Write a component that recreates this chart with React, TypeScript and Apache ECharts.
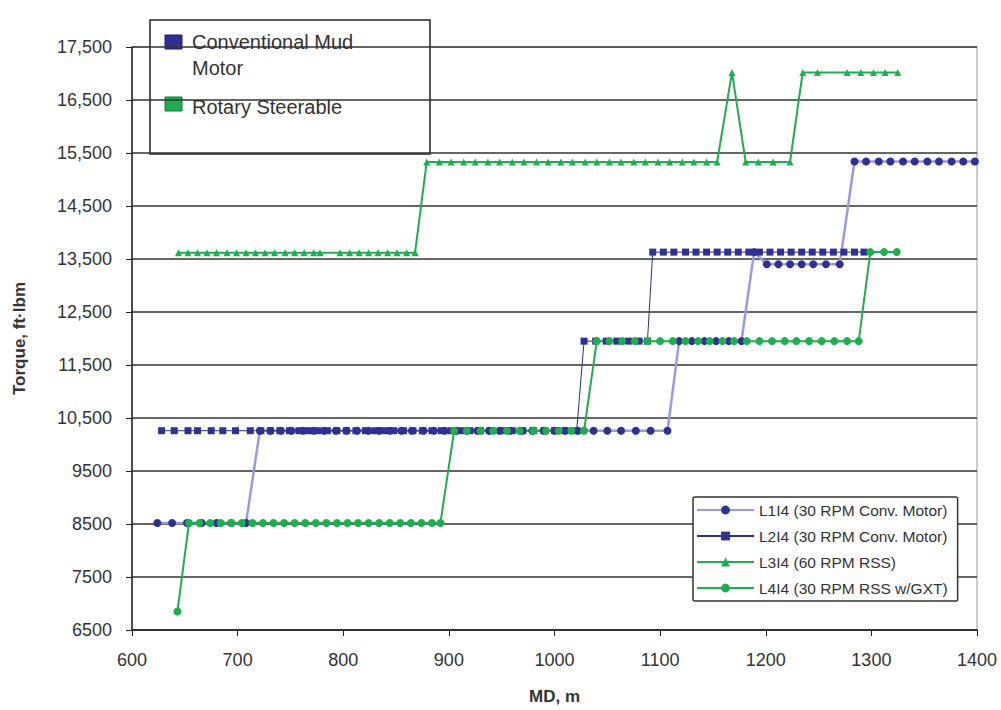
import React, { useEffect, useRef } from "react";
import * as echarts from "echarts";

// ---- Data (MD in m, torque in ft·lbm), grouped by constant-torque steps ----
const l1Levels = [8520, 10260, 11950, 13630, 13400, 15340];
const l1MD = [
  [624, 638, 652, 666, 680, 694, 708],
  [721, 731, 741, 751, 762, 772, 782, 793, 803, 813, 824, 834, 844, 855, 865, 876, 886, 896, 907, 917, 927, 938, 948, 958, 969, 979, 990, 1000, 1010, 1022, 1037, 1050, 1063, 1077, 1091, 1107],
  [1118, 1130, 1142, 1153, 1165, 1177],
  [1189],
  [1201, 1212, 1223, 1234, 1245, 1257, 1270],
  [1284, 1295, 1307, 1318, 1330, 1341, 1353, 1364, 1376, 1387, 1398],
];

const l2Levels = [10260, 11950, 13630];
const l2MD = [
  [628, 640, 653, 662, 675, 686, 698, 712, 722, 731, 740, 749, 758, 767, 776, 785, 794, 803, 812, 821, 830, 839, 848, 857, 866, 875, 884, 893, 902, 911, 920, 930, 940, 950, 960, 970, 980, 990, 1000, 1010, 1021],
  [1028, 1039, 1049, 1059, 1070, 1080, 1088],
  [1093, 1103, 1113, 1124, 1134, 1144, 1154, 1164, 1174, 1184, 1194, 1204, 1214, 1224, 1234, 1244, 1254, 1264, 1274, 1284, 1293],
];

const l3Levels = [13620, 15330, 17020, 15330, 17020];
const l3MD = [
  [644, 653, 662, 671, 680, 690, 699, 708, 717, 726, 735, 745, 754, 763, 772, 778, 797, 806, 815, 824, 833, 842, 851, 860, 868],
  [879, 891, 902, 914, 925, 937, 948, 960, 971, 983, 994, 1006, 1017, 1029, 1040, 1052, 1063, 1075, 1086, 1098, 1109, 1121, 1132, 1144, 1154],
  [1168],
  [1181, 1193, 1207, 1223],
  [1235, 1249, 1277, 1290, 1302, 1313, 1325],
];

const l4Levels = [6850, 8520, 10260, 11950, 13630];
const l4MD = [
  [643],
  [654, 664, 674, 684, 694, 704, 714, 724, 734, 744, 754, 764, 774, 784, 794, 804, 814, 824, 834, 844, 854, 864, 874, 884, 892],
  [905, 917, 930, 942, 955, 967, 980, 992, 1004, 1016, 1028],
  [1040, 1052, 1064, 1076, 1088, 1100, 1112, 1124, 1136, 1147, 1159, 1170, 1182, 1194, 1206, 1218, 1229, 1241, 1253, 1265, 1277, 1288],
  [1299, 1312, 1324],
];

const seriesNames = [
  "L1I4 (30 RPM Conv. Motor)",
  "L2I4 (30 RPM Conv. Motor)",
  "L3I4 (60 RPM RSS)",
  "L4I4 (30 RPM RSS w/GXT)",
];
const groupLegend = ["Conventional Mud\nMotor", "Rotary Steerable"];

const xTicks = { min: 600, max: 1400, step: 100 };
const yTicks = { min: 6500, max: 17500, step: 1000 };

const NAVY = "#2E3192";
const GREEN = "#1DAE4E";
const FONT = "Liberation Sans, Arial, sans-serif";

function build(levels: number[], mds: number[][]) {
  const out: number[][] = [];
  mds.forEach((g, i) => g.forEach((m) => out.push([m, levels[i]])));
  return out;
}

function fmtY(v: number) {
  if (v >= 10000) return String(v).replace(/\B(?=(\d{3})+(?!\d))/g, ",");
  return String(v);
}

function fmtX(v: number) {
  return String(v);
}

export default function App() {
  const ref = useRef<HTMLDivElement>(null);
  useEffect(() => {
    document.body.style.margin = "0";
    if (!ref.current) return;
    const chart = echarts.init(ref.current, null, { renderer: "svg" });
    chart.setOption({
      animation: false,
      backgroundColor: "#ffffff",
      textStyle: { fontFamily: FONT },
      grid: {
        left: 132,
        right: 24,
        top: 47,
        bottom: 77,
        show: true,
        borderColor: "#999",
        borderWidth: 1,
      },
      xAxis: {
        type: "value",
        min: xTicks.min,
        max: xTicks.max,
        interval: xTicks.step,
        name: "MD, m",
        nameLocation: "middle",
        nameGap: 58,
        nameTextStyle: { fontSize: 17, fontWeight: "bold", color: "#333", fontFamily: FONT },
        axisLine: { show: true, lineStyle: { color: "#222", width: 1.5 } },
        axisTick: { show: true, length: 6, lineStyle: { color: "#222" } },
        axisLabel: { fontSize: 18, color: "#333", margin: 21, formatter: fmtX, fontFamily: FONT },
        splitLine: { show: false },
      },
      yAxis: {
        type: "value",
        min: yTicks.min,
        max: yTicks.max,
        interval: yTicks.step,
        name: "Torque, ft·lbm",
        nameLocation: "middle",
        nameGap: 104,
        nameTextStyle: { fontSize: 17, fontWeight: "bold", color: "#333", fontFamily: FONT },
        axisLine: { show: true, lineStyle: { color: "#222", width: 1.5 } },
        axisTick: { show: true, length: 6, lineStyle: { color: "#222" } },
        axisLabel: { fontSize: 18, color: "#333", margin: 20, formatter: fmtY, fontFamily: FONT },
        splitLine: { show: true, lineStyle: { color: "#333", width: 1.5 } },
      },
      legend: {
        orient: "vertical",
        left: 693,
        top: 497,
        padding: [5, 10, 5, 3],
        itemGap: 10,
        itemWidth: 57,
        itemHeight: 11,
        backgroundColor: "#fff",
        borderColor: "#333",
        borderWidth: 1.5,
        borderRadius: 2,
        textStyle: { fontSize: 15.5, color: "#333", fontFamily: FONT },
        data: seriesNames,
      },
      graphic: [
        {
          type: "group",
          z: 100,
          children: [
            {
              type: "rect",
              shape: { x: 150, y: 20, width: 280, height: 134 },
              style: { fill: "#fff", stroke: "#222", lineWidth: 1.5 },
            },
            {
              type: "rect",
              shape: { x: 165, y: 35, width: 17, height: 14 },
              style: { fill: NAVY, stroke: "#1c1c66", lineWidth: 1 },
            },
            {
              type: "text",
              x: 192,
              y: 29,
              style: {
                text: groupLegend[0],
                font: `20px ${FONT}`,
                lineHeight: 26,
                fill: "#333",
                verticalAlign: "top",
              },
            },
            {
              type: "rect",
              shape: { x: 165, y: 97, width: 17, height: 14 },
              style: { fill: GREEN, stroke: "#137a37", lineWidth: 1 },
            },
            {
              type: "text",
              x: 192,
              y: 94,
              style: {
                text: groupLegend[1],
                font: `20px ${FONT}`,
                lineHeight: 26,
                fill: "#333",
                verticalAlign: "top",
              },
            },
          ],
        },
      ],
      series: [
        {
          name: seriesNames[0],
          type: "line",
          data: build(l1Levels, l1MD),
          symbol: "circle",
          symbolSize: 8,
          lineStyle: { color: "#9A9AE0", width: 2.5 },
          itemStyle: { color: NAVY },
        },
        {
          name: seriesNames[1],
          type: "line",
          data: build(l2Levels, l2MD),
          symbol: "rect",
          symbolSize: 7,
          lineStyle: { color: "#2B2E85", width: 1 },
          itemStyle: { color: NAVY },
        },
        {
          name: seriesNames[2],
          type: "line",
          data: build(l3Levels, l3MD),
          symbol: "triangle",
          symbolSize: 7,
          lineStyle: { color: GREEN, width: 2 },
          itemStyle: { color: GREEN },
        },
        {
          name: seriesNames[3],
          type: "line",
          data: build(l4Levels, l4MD),
          symbol: "circle",
          symbolSize: 8,
          lineStyle: { color: GREEN, width: 2 },
          itemStyle: { color: GREEN },
        },
      ],
    });
    return () => chart.dispose();
  }, []);
  return <div ref={ref} style={{ width: 1001, height: 710 }} />;
}
